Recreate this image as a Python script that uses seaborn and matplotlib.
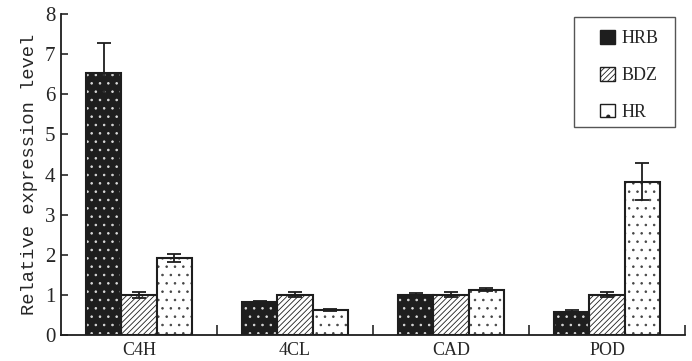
import numpy as np
import pandas as pd
import matplotlib
matplotlib.use("Agg")
import matplotlib.pyplot as plt
import seaborn as sns
from matplotlib.patches import Patch, Rectangle

#Data
genes = ["C4H", "4CL", "CAD", "POD"]
lines = ["HRB", "BDZ", "HR"]
hrb = [6.52, 0.82, 1.00, 0.57]
hrb_err = [0.76, 0.03, 0.05, 0.05]
bdz = [1.00, 1.00, 1.00, 1.00]
bdz_err = [0.07, 0.06, 0.06, 0.06]
hr = [1.92, 0.62, 1.13, 3.82]
hr_err = [0.10, 0.03, 0.04, 0.46]

sns.set_style("ticks")
plt.rcParams['font.family'] = ['Liberation Serif', 'DejaVu Serif']
plt.rcParams['hatch.linewidth'] = 0.6

df = pd.DataFrame({
    "gene": genes * 3,
    "line": [l for l in lines for _ in genes],
    "value": hrb + bdz + hr,
})
errs = [hrb_err, bdz_err, hr_err]

fig = plt.figure(figsize=(6.92, 3.61), dpi=100)
ax = fig.add_axes([0.088, 0.072, 0.902, 0.889])

sns.barplot(data=df, x="gene", y="value", hue="line", order=genes,
            hue_order=lines, width=0.68, errorbar=None, ax=ax,
            palette=["#1e1e1e", "white", "white"], legend=False,
            edgecolor="#1e1e1e", linewidth=1.5)

#Style each series: fill colour, hatch, outline
styles = [("#1e1e1e", "..", "#dddddd"), ("white", "//////", "#1e1e1e"),
          ("white", "..", "#444444")]
bar_groups = list(ax.containers)
for i, cont in enumerate(bar_groups):
    fc, hatch, hc = styles[i]
    for j, bar in enumerate(cont):
        bar.set_facecolor(fc)
        bar.set_hatch(hatch)
        bar.set_edgecolor(hc)
        x0, w, h = bar.get_x(), bar.get_width(), bar.get_height()
        if i != 1:
            bar.set_linewidth(0)
            ax.add_patch(Rectangle((x0, 0), w, h, fill=False,
                                   edgecolor="#1e1e1e", lw=1.5, zorder=3))
        ax.errorbar(x0 + w / 2, h, yerr=errs[i][j], fmt="none",
                    ecolor="#1e1e1e", elinewidth=1.3, capsize=5,
                    capthick=1.3, zorder=4)

ax.set_xlim(-0.5, 3.5)
ax.set_ylim(0, 8)
ax.set_yticks(range(0, 9))
ax.set_xticks(range(4))
ax.set_xticklabels(genes, fontsize=13)
ax.tick_params(axis="x", length=0, pad=5)
ax.set_xticks([0.5, 1.5, 2.5, 3.5], minor=True)
ax.tick_params(axis="x", which="minor", direction="in", length=7, width=1.2)
ax.tick_params(axis="y", direction="in", length=5, width=1.2, labelsize=15,
               pad=4)
ax.set_xlabel("")
ax.set_ylabel("Relative expression level", fontsize=13.5,
              family=['Liberation Mono'], labelpad=5)
sns.despine(ax=ax)
for s in ["left", "bottom"]:
    ax.spines[s].set_linewidth(1.3)
    ax.spines[s].set_color("#1e1e1e")

#Legend box drawn separately so the padding can match the reference
fig.add_artist(Rectangle((0.8295, 0.648), 0.146, 0.305, fill=False,
                         edgecolor="#555555", lw=1.0,
                         transform=fig.transFigure))
handles = [Patch(facecolor="#1e1e1e", edgecolor="#1e1e1e", label="HRB"),
           Patch(facecolor="white", hatch="//////", edgecolor="#1e1e1e",
                 label="BDZ"),
           Patch(facecolor="white", hatch=".", edgecolor="#1e1e1e",
                 label="HR")]
leg = ax.legend(handles=handles, loc="center",
                bbox_to_anchor=(0.9096, 0.791),
                bbox_transform=fig.transFigure, fontsize=13, frameon=False,
                labelspacing=1.08, handlelength=0.8, handleheight=0.8,
                handletextpad=0.4, borderpad=0)

fig.savefig("out.png", dpi=100)
